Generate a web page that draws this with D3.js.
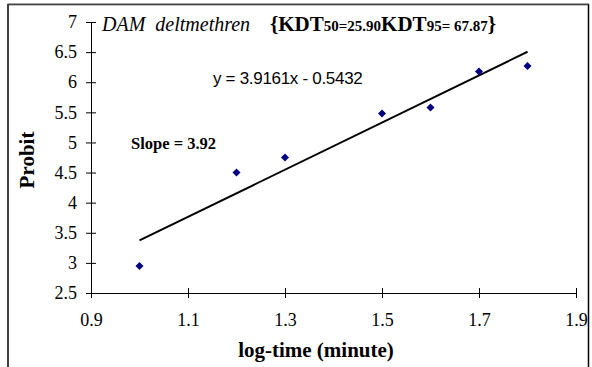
<!DOCTYPE html>
<html>
<head>
<meta charset="utf-8">
<script src="https://cdn.jsdelivr.net/npm/d3@7"></script>
<style>
  body { margin: 0; background: #fff; }
  text { font-family: "Liberation Serif", "Times New Roman", serif; fill: #000; }
</style>
</head>
<body>
<script>
// log-time vs probit
var logTime = [1.0, 1.2, 1.3, 1.5, 1.6, 1.7, 1.8];
var probit = [2.95, 4.5, 4.75, 5.48, 5.58, 6.18, 6.27];
var xTicks = [0.9, 1.1, 1.3, 1.5, 1.7, 1.9];
var yTicks = [2.5, 3, 3.5, 4, 4.5, 5, 5.5, 6, 6.5, 7];
var slope = 3.9161, intercept = -0.5432;

var width = 592, height = 367;
var svg = d3.select('body').append('svg').attr('width', width).attr('height', height);

// outer frame (bottom edge cut off)
svg.append('path')
  .attr('d', 'M8,367 V4.5 H588.5 V367')
  .attr('fill', 'none').attr('stroke', '#000').attr('stroke-width', 1.5);
svg.append('line').attr('x1', 8).attr('x2', 588.5).attr('y1', 4).attr('y2', 4)
  .attr('stroke', '#888').attr('stroke-width', 1);

var x = d3.scaleLinear().domain([0.9, 1.9]).range([91, 576]);
var y = d3.scaleLinear().domain([2.5, 7]).range([293, 22]);

// y axis
var yAxis = svg.append('g').attr('transform', 'translate(91,0)')
  .call(d3.axisLeft(y).tickValues(yTicks).tickFormat(d3.format('')).tickSize(5).tickPadding(9));
yAxis.select('.domain').attr('stroke', '#000');
yAxis.selectAll('.tick line').attr('x1', -5).attr('x2', 5);
yAxis.selectAll('text').style('font-size', '18px').style('font-family', '"Liberation Serif", serif');

// x axis
var xAxis = svg.append('g').attr('transform', 'translate(0,293)')
  .call(d3.axisBottom(x).tickValues(xTicks).tickFormat(d3.format('.1f')).tickSize(5).tickPadding(15));
xAxis.select('.domain').attr('stroke', '#000');
xAxis.selectAll('.tick line').attr('y1', -5).attr('y2', 5);
xAxis.selectAll('text').style('font-size', '18px').style('font-family', '"Liberation Serif", serif');

// trend line
var xs = d3.extent(logTime);
svg.append('line')
  .attr('x1', x(xs[0])).attr('y1', y(slope * xs[0] + intercept))
  .attr('x2', x(xs[1])).attr('y2', y(slope * xs[1] + intercept))
  .attr('stroke', '#000').attr('stroke-width', 2);

// points (diamonds)
svg.selectAll('path.pt')
  .data(logTime)
  .enter().append('path')
  .attr('class', 'pt')
  .attr('d', d3.symbol().type(d3.symbolSquare).size(32))
  .attr('transform', function (d, i) { return 'translate(' + x(d) + ',' + y(probit[i]) + ') rotate(45)'; })
  .attr('fill', '#000080');

// title
svg.append('text').attr('x', 102).attr('y', 31)
  .style('font-size', '20px').style('font-style', 'italic').style('white-space', 'pre')
  .text('DAM  deltmethren');
var title = svg.append('text').attr('x', 270).attr('y', 31)
  .style('font-size', '21px').style('font-weight', 'bold');
title.append('tspan').text('{KDT');
title.append('tspan').style('font-size', '15px').text('50=25.90');
title.append('tspan').text('KDT');
title.append('tspan').style('font-size', '15px').text('95= 67.87');
title.append('tspan').text('}');

// equation
svg.append('text').attr('x', 213).attr('y', 84)
  .style('font-family', '"Liberation Sans", Arial, sans-serif').style('font-size', '17px')
  .style('letter-spacing', '-0.3px')
  .text('y = 3.9161x - 0.5432');

svg.append('text').attr('x', 131).attr('y', 149)
  .style('font-weight', 'bold').style('font-size', '16.5px')
  .text('Slope = 3.92');

// axis titles
svg.append('text').attr('x', 316).attr('y', 357).attr('text-anchor', 'middle')
  .style('font-weight', 'bold').style('font-size', '21px')
  .text('log-time (minute)');
svg.append('text').attr('transform', 'translate(34,160) rotate(-90)').attr('text-anchor', 'middle')
  .style('font-weight', 'bold').style('font-size', '21px')
  .text('Probit');
</script>
</body>
</html>
